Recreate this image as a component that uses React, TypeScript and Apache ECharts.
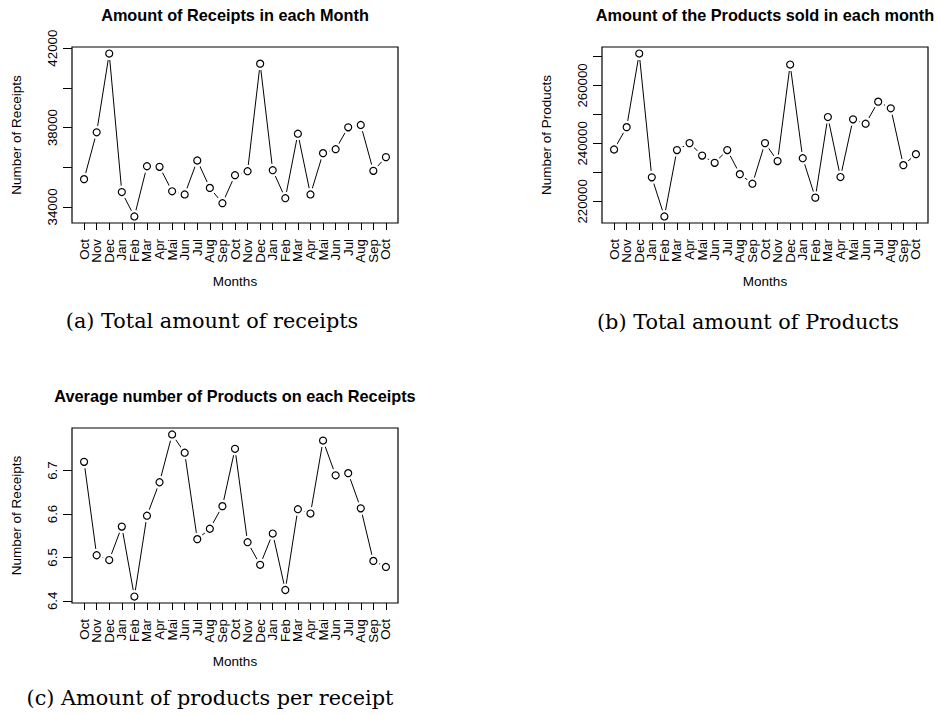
import React, { useEffect, useRef } from "react";
import * as echarts from "echarts";

// Month labels along each x axis (Oct of one year through Oct two years later)
const months = [
  "Oct", "Nov", "Dec", "Jan", "Feb", "Mar", "Apr", "Mai", "Jun", "Jul", "Aug", "Sep",
  "Oct", "Nov", "Dec", "Jan", "Feb", "Mar", "Apr", "Mai", "Jun", "Jul", "Aug", "Sep", "Oct",
];

// Number of receipts per month
const receipts = [
  35400, 37760, 41730, 34750, 33520, 36050, 36020, 34790, 34630, 36340, 34960, 34190,
  35600, 35800, 41220, 35850, 34440, 37690, 34630, 36710, 36910, 38010, 38130, 35820, 36510,
];

// Number of products sold per month
const products = [
  237900, 245600, 271000, 228300, 214800, 237700, 240100, 235800, 233300, 237700, 229400, 226100,
  240100, 233900, 267200, 234900, 221300, 249100, 228400, 248300, 246800, 254400, 252100, 232500, 236300,
];

// Average number of products per receipt
const perReceipt = [
  6.72, 6.505, 6.494, 6.571, 6.41, 6.596, 6.673, 6.783, 6.741, 6.542, 6.566, 6.618,
  6.75, 6.535, 6.483, 6.555, 6.425, 6.611, 6.601, 6.769, 6.689, 6.694, 6.613, 6.492, 6.478,
];

// Y axis tick positions and the subset that carries labels
const receiptTicks = [34000, 36000, 38000, 40000, 42000];
const receiptLabels = [34000, 38000, 42000];
const productTicks = [220000, 230000, 240000, 250000, 260000, 270000];
const productLabels = [220000, 240000, 260000];
const avgTicks = [6.4, 6.5, 6.6, 6.7];
const avgLabels = [6.4, 6.5, 6.6, 6.7];

const titles = [
  "Amount of Receipts in each Month",
  "Amount of the Products sold in each month",
  "Average number of Products on each Receipts",
];
const yNames = ["Number of Receipts", "Number of Products", "Number of Receipts"];
const captions = [
  "(a) Total amount of receipts",
  "(b) Total amount of Products",
  "(c) Amount of products per receipt",
];

const SANS = "'Liberation Sans', Arial, Helvetica, sans-serif";
const SERIF = "'DejaVu Serif', 'Liberation Serif', serif";

// Panel boxes in page pixels
const panels = [
  { left: 72, top: 47, width: 326, height: 176 },
  { left: 602, top: 47, width: 326, height: 176 },
  { left: 72, top: 428, width: 326, height: 175 },
];

// R-style 4% padding around the data range
function padRange(vals: number[]) {
  const lo = Math.min(...vals);
  const hi = Math.max(...vals);
  const d = (hi - lo) * 0.04;
  return { min: lo - d, max: hi + d };
}

export default function App() {
  const ref = useRef<HTMLDivElement>(null);

  useEffect(() => {
    if (!ref.current) return;
    const chart = echarts.init(ref.current, null, { renderer: "svg" });

    const datasets = [
      { values: receipts, ticks: receiptTicks, labels: receiptLabels },
      { values: products, ticks: productTicks, labels: productLabels },
      { values: perReceipt, ticks: avgTicks, labels: avgLabels },
    ];
    const idx = months.map((_, i) => i + 1);
    // month labels are packed tightly, so they are split over two
    // overlaid axes (odd / even positions) to keep every one visible
    const oddIdx = idx.filter((v) => v % 2 === 1);
    const evenIdx = idx.filter((v) => v % 2 === 0);
    const n = months.length;
    const xPad = (n - 1) * 0.04;

    const grids = panels.map((p) => ({ ...p, show: false }));

    const monthLabel = (values: number[]) => ({
      customValues: values,
      rotate: 90,
      margin: 16,
      showMinLabel: true,
      showMaxLabel: true,
      hideOverlap: false,
      color: "#000",
      fontFamily: SANS,
      fontSize: 13.3,
      formatter: (v: number) => months[Math.round(v) - 1] ?? "",
    });

    const xAxes: any[] = [];
    panels.forEach((_, i) => {
      xAxes.push({
        type: "value",
        gridIndex: i,
        position: "bottom",
        min: 1 - xPad,
        max: n + xPad,
        axisLine: { show: false },
        splitLine: { show: false },
        axisTick: {
          show: true,
          length: 7,
          customValues: idx,
          lineStyle: { color: "#000", width: 1 },
        },
        axisLabel: monthLabel(oddIdx),
        name: "Months",
        nameLocation: "middle",
        nameGap: 51,
        nameTextStyle: { color: "#000", fontFamily: SANS, fontSize: 13.5 },
      });
      xAxes.push({
        type: "value",
        gridIndex: i,
        position: "bottom",
        offset: 0,
        min: 1 - xPad,
        max: n + xPad,
        axisLine: { show: false },
        splitLine: { show: false },
        axisTick: { show: false },
        axisLabel: monthLabel(evenIdx),
      });
    });

    const yAxes = datasets.map((d, i) => {
      const r = padRange(d.values);
      return {
        type: "value",
        gridIndex: i,
        min: r.min,
        max: r.max,
        axisLine: { show: false },
        splitLine: { show: false },
        axisTick: {
          show: true,
          length: 9,
          customValues: d.ticks,
          lineStyle: { color: "#000", width: 1 },
        },
        axisLabel: {
          customValues: d.labels,
          rotate: 90,
          margin: 13,
          showMinLabel: true,
          showMaxLabel: true,
          hideOverlap: false,
          color: "#000",
          fontFamily: SANS,
          fontSize: 13.3,
          formatter: (v: number) => String(Math.round(v * 10) / 10),
        },
        name: yNames[i],
        nameLocation: "middle",
        nameGap: 49,
        nameTextStyle: { color: "#000", fontFamily: SANS, fontSize: 13.5 },
      };
    });

    const series: any[] = [];
    datasets.forEach((d, i) => {
      const pts = d.values.map((v, k) => [k + 1, v]);
      const xi = i * 2;
      series.push({
        type: "line",
        xAxisIndex: xi,
        yAxisIndex: i,
        data: pts,
        showSymbol: false,
        silent: true,
        lineStyle: { color: "#000", width: 1 },
        z: 2,
      });
      // white halo so the connecting lines stop short of each point
      series.push({
        type: "scatter",
        xAxisIndex: xi,
        yAxisIndex: i,
        data: pts,
        symbol: "circle",
        symbolSize: 13,
        silent: true,
        itemStyle: { color: "#fff", opacity: 1 },
        z: 3,
      });
      series.push({
        type: "scatter",
        xAxisIndex: xi,
        yAxisIndex: i,
        data: pts,
        symbol: "circle",
        symbolSize: 7,
        silent: true,
        itemStyle: { color: "#fff", borderColor: "#000", borderWidth: 1.2, opacity: 1 },
        z: 4,
      });
    });

    const graphic: any[] = [];
    panels.forEach((p, i) => {
      graphic.push({
        type: "rect",
        shape: { x: p.left, y: p.top, width: p.width, height: p.height },
        style: { fill: "none", stroke: "#000", lineWidth: 1.2 },
        z: 100,
        silent: true,
      });
      graphic.push({
        type: "text",
        x: p.left + p.width / 2,
        y: p.top - 32.5,
        style: {
          text: titles[i],
          font: `bold 16.3px ${SANS}`,
          fill: "#000",
          textAlign: "center",
          textVerticalAlign: "middle",
        },
        z: 100,
      });
    });
    const capPos = [
      { x: 212, y: 321 },
      { x: 748, y: 322 },
      { x: 210, y: 698 },
    ];
    capPos.forEach((c, i) => {
      graphic.push({
        type: "text",
        x: c.x,
        y: c.y,
        style: {
          text: captions[i],
          font: `20.8px ${SERIF}`,
          fill: "#000",
          textAlign: "center",
          textVerticalAlign: "middle",
        },
        z: 100,
      });
    });

    chart.setOption({
      animation: false,
      backgroundColor: "#fff",
      grid: grids,
      xAxis: xAxes,
      yAxis: yAxes,
      series,
      graphic,
    });

    return () => chart.dispose();
  }, []);

  return (
    <div
      ref={ref}
      style={{ position: "absolute", left: 0, top: 0, width: 939, height: 715, background: "#fff" }}
    />
  );
}
